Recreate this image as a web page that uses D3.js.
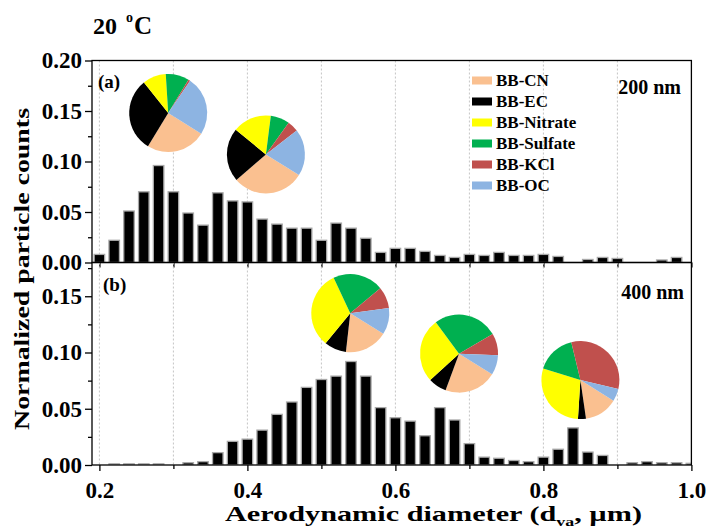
<!DOCTYPE html>
<html>
<head>
<meta charset="utf-8">
<script src="https://cdn.jsdelivr.net/npm/d3@7"></script>
<style>
  body { margin: 0; background: #fff; }
  svg { display: block; font-family: "Liberation Serif", "Times New Roman", serif; font-weight: bold; }
</style>
</head>
<body>
<svg id="chart" width="706" height="530"></svg>
<script>
// bin centres (aerodynamic diameter, um)
const diameters = [0.20, 0.22, 0.24, 0.26, 0.28, 0.30, 0.32, 0.34, 0.36, 0.38,
  0.40, 0.42, 0.44, 0.46, 0.48, 0.50, 0.52, 0.54, 0.56, 0.58,
  0.60, 0.62, 0.64, 0.66, 0.68, 0.70, 0.72, 0.74, 0.76, 0.78,
  0.80, 0.82, 0.84, 0.86, 0.88, 0.90, 0.92, 0.94, 0.96, 0.98, 1.00];

const counts200 = [0.008, 0.022, 0.051, 0.070, 0.096, 0.070, 0.049, 0.037, 0.069, 0.061,
  0.060, 0.043, 0.038, 0.034, 0.034, 0.022, 0.039, 0.034, 0.024, 0.010,
  0.014, 0.014, 0.011, 0.007, 0.005, 0.008, 0.007, 0.010, 0.007, 0.007,
  0.008, 0.006, 0, 0.003, 0.005, 0.004, 0, 0, 0.0025, 0.005, 0];

const counts400 = [0, 0.001, 0.001, 0.001, 0.001, 0, 0.002, 0.003, 0.011, 0.021,
  0.023, 0.031, 0.045, 0.056, 0.069, 0.076, 0.079, 0.092, 0.079, 0.051,
  0.042, 0.039, 0.026, 0.051, 0.040, 0.019, 0.007, 0.006, 0.004, 0.003,
  0.007, 0.014, 0.033, 0.0115, 0.0085, 0, 0.002, 0.003, 0.002, 0.002, 0.0015];

const components = ['BB-CN', 'BB-EC', 'BB-Nitrate', 'BB-Sulfate', 'BB-KCl', 'BB-OC'];

// pie fractions (%), same order as components
const pie200Small = [24.8, 30.6, 9.7, 9.7, 0.8, 24.4];
const pie200Large = [29.8, 22.3, 16.1, 7.9, 4.6, 19.4];
const pie400Small = [17.9, 9.1, 32.1, 21.0, 8.9, 11.0];
const pie400Mid = [21.7, 7.6, 26.6, 26.7, 9.1, 8.2];
const pie400Large = [13.8, 3.3, 28.8, 16.4, 32.4, 5.2];

const yTicks200 = [0, 0.05, 0.10, 0.15, 0.20];
const yTicks400 = [0, 0.05, 0.10, 0.15];
const xTicks = [0.2, 0.4, 0.6, 0.8, 1.0];
const xMinor = [0.3, 0.5, 0.7, 0.9];
const gridLines = [0.2, 0.3, 0.4, 0.5, 0.6, 0.7, 0.8, 0.9];

const colors = ['#FAC090', '#000000', '#FFFF00', '#00B050', '#C0504D', '#8DB4E2'];

const svg = d3.select('#chart');

const x = d3.scaleLinear().domain([0.19, 1.0]).range([92, 691.4]);
const barW = 0.0142;

const panels = [
  {id: 'a', values: counts200, ymax: 0.20, top: 60.5, bottom: 262.5, ticks: yTicks200,
   label: '(a)', lx: 98, ly: 88, size: '200 nm', sx: 681, sy: 94,
   pies: [{v: pie200Small, at: [0.293, 0.148]}, {v: pie200Large, at: [0.425, 0.107]}]},
  {id: 'b', values: counts400, ymax: 0.18, top: 262.5, bottom: 465, ticks: yTicks400,
   label: '(b)', lx: 103, ly: 291, size: '400 nm', sx: 684, sy: 299,
   pies: [{v: pie400Small, at: [0.539, 0.135]}, {v: pie400Mid, at: [0.686, 0.099]},
          {v: pie400Large, at: [0.85, 0.0755]}]}
];

const pie = d3.pie().sort(null)
    .startAngle(122 * Math.PI / 180)
    .endAngle(122 * Math.PI / 180 + 2 * Math.PI);
const arc = d3.arc().innerRadius(0).outerRadius(39);

panels.forEach((p, i) => {
  const y = d3.scaleLinear().domain([0, p.ymax]).range([p.bottom, p.top]);

  svg.append('clipPath').attr('id', 'clip-' + p.id)
    .append('rect')
      .attr('x', x.range()[0]).attr('y', p.top)
      .attr('width', x.range()[1] - x.range()[0]).attr('height', p.bottom - p.top);

  svg.append('g')
      .attr('stroke', '#c4c4c4').attr('stroke-dasharray', '2,2')
    .selectAll('line')
    .data(gridLines)
    .join('line')
      .attr('x1', d => x(d)).attr('x2', d => x(d))
      .attr('y1', p.top).attr('y2', p.bottom);

  svg.append('g')
      .attr('clip-path', `url(#clip-${p.id})`)
    .selectAll('rect')
    .data(diameters.map((d, k) => ({d, v: p.values[k]})).filter(e => e.v > 0))
    .join('rect')
      .attr('x', e => x(e.d - barW / 2))
      .attr('width', x(barW) - x(0))
      .attr('y', e => y(e.v))
      .attr('height', e => y(0) - y(e.v))
      .attr('fill', '#000')
      .attr('stroke', '#a8a8a8')
      .attr('stroke-width', 1.3);

  // y axis
  svg.append('g')
      .attr('transform', `translate(${x.range()[0]},0)`)
      .call(d3.axisLeft(y).tickValues(p.ticks).tickFormat(d3.format('.2f')).tickSize(7));
  svg.append('g')
      .attr('transform', `translate(${x.range()[0]},0)`)
      .call(d3.axisLeft(y).tickValues(p.ticks.map(t => t + 0.025).filter(t => t < p.ymax)).tickFormat('').tickSize(4));

  // x axis
  if (i === 0) {
    svg.append('g')
        .attr('transform', `translate(0,${p.bottom})`)
        .call(d3.axisBottom(x).tickValues(gridLines.concat([1.0])).tickFormat('').tickSize(5));
  } else {
    svg.append('g')
        .attr('transform', `translate(0,${p.bottom})`)
        .call(d3.axisBottom(x).tickValues(xTicks).tickFormat(d3.format('.1f')).tickSize(6).tickPadding(11));
    svg.append('g')
        .attr('transform', `translate(0,${p.bottom})`)
        .call(d3.axisBottom(x).tickValues(xMinor).tickFormat('').tickSize(4));
  }

  svg.append('rect')
      .attr('x', x.range()[0]).attr('y', p.top)
      .attr('width', x.range()[1] - x.range()[0]).attr('height', p.bottom - p.top)
      .attr('fill', 'none').attr('stroke', '#000').attr('stroke-width', 1.3);

  // pies
  p.pies.forEach(q => {
    svg.append('g')
        .attr('transform', `translate(${x(q.at[0])},${y(q.at[1])})`)
      .selectAll('path')
      .data(pie(q.v))
      .join('path')
        .attr('d', arc)
        .attr('fill', (d, k) => colors[k]);
  });

  svg.append('text').attr('x', p.lx).attr('y', p.ly)
      .attr('font-size', 19).text(p.label);
  svg.append('text').attr('x', p.sx).attr('y', p.sy)
      .attr('font-size', 20).attr('text-anchor', 'end').text(p.size);
});

svg.selectAll('.tick line').attr('stroke-width', 1.3);
svg.selectAll('.domain').remove();
svg.selectAll('.tick text')
    .attr('font-size', 23)
    .attr('fill', '#000');
svg.selectAll('g').attr('font-family', null).attr('font-size', null);

// legend
const legend = svg.append('g')
  .selectAll('g')
  .data(components)
  .join('g')
    .attr('transform', (d, k) => `translate(472,${80.5 + k * 21})`);
legend.append('rect')
    .attr('x', 0).attr('y', -4).attr('width', 20).attr('height', 8)
    .attr('fill', (d, k) => colors[k]);
legend.append('text')
    .attr('x', 24).attr('y', 5.5)
    .attr('font-size', 17)
    .text(d => d);

// titles
const title = svg.append('text').attr('y', 33.5);
title.append('tspan').attr('x', 93).attr('font-size', 24).text('20');
title.append('tspan').attr('x', 126).attr('dy', -12).attr('font-size', 14).text('o');
title.append('tspan').attr('x', 134).attr('dy', 12).attr('font-size', 25).text('C');

svg.append('text')
    .attr('x', 433.5).attr('y', 521)
    .attr('font-size', 22).attr('text-anchor', 'middle')
    .attr('textLength', 417).attr('lengthAdjust', 'spacingAndGlyphs')
    .text('Aerodynamic diameter (d')
  .append('tspan')
    .attr('font-size', 13).attr('dy', 5).text('va')
  .clone()
    .attr('font-size', 22).attr('dy', -5).text(', \u00b5m)');

svg.append('text')
    .attr('transform', 'translate(29,269) rotate(-90)')
    .attr('font-size', 22).attr('text-anchor', 'middle')
    .attr('textLength', 322).attr('lengthAdjust', 'spacingAndGlyphs')
    .text('Normalized particle counts');
</script>
</body>
</html>
